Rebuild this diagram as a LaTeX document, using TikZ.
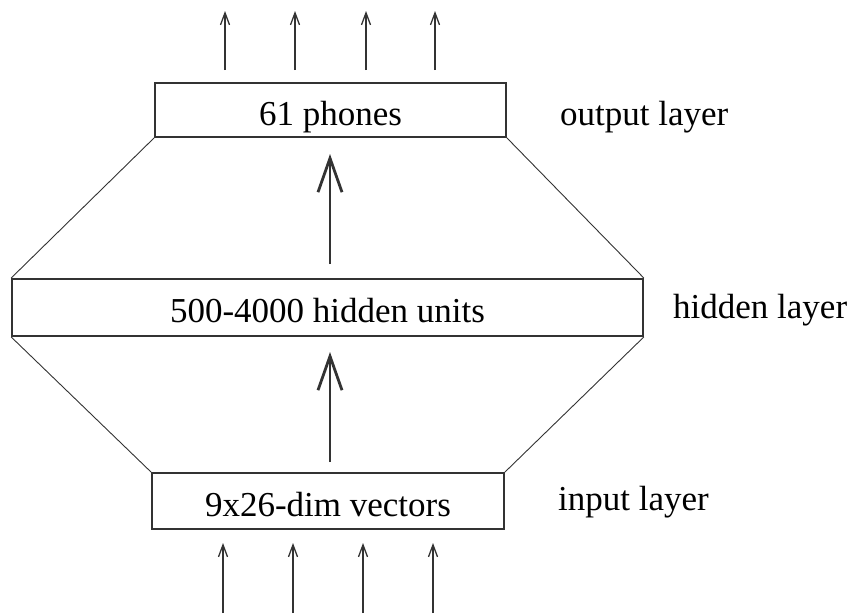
\documentclass[tikz,border=0pt]{standalone}
\usepackage{fontspec}
\setmainfont{Liberation Serif}
\usetikzlibrary{arrows.meta}
\begin{document}
\begin{tikzpicture}[x=1pt,y=-1pt,
  ink/.style={draw=black!80},
  layerbox/.style={ink,line width=1.8pt,rectangle,inner sep=0pt,fill=white,
    text height=35pt,text depth=5pt},
  boxtext/.style={font=\fontsize{35}{35}\selectfont},
  sidelabel/.style={anchor=base west,inner sep=0pt,font=\fontsize{35}{35}\selectfont},
  flank/.style={ink,line width=0.9pt},
  feed/.style={ink,line width=1.3pt,-{Straight Barb[length=12pt,width=9pt,line width=1.3pt]}},
  pass/.style={ink,line width=2.8pt,-{Straight Barb[length=34pt,width=24pt,line width=2.8pt]}}
]
\useasboundingbox (0,0) rectangle (851,613);

% the three layers
\node[layerbox,minimum width=351pt,minimum height=54pt,boxtext] (out) at (330.5,110) {61 phones};
\node[layerbox,minimum width=631pt,minimum height=57pt,boxtext] (hid) at (327.5,307.5) {500-4000 hidden units};
\node[layerbox,minimum width=352pt,minimum height=56pt,boxtext] (inp) at (328,501) {9x26-dim vectors};

% slanted sides joining the layers
\draw[flank] (out.south west) -- (hid.north west);
\draw[flank] (out.south east) -- (hid.north east);
\draw[flank] (hid.south west) -- (inp.north west);
\draw[flank] (hid.south east) -- (inp.north east);

% layer names
\node[sidelabel] (lout) at (560,125) {output layer};
\node[sidelabel] (lhid) at (673,318) {hidden layer};
\node[sidelabel] (linp) at (558,510) {input layer};

% flow between layers
\coordinate (u0) at (330,264);
\coordinate (u1) at (330,154);
\coordinate (l0) at (330,462);
\coordinate (l1) at (330,352);
\draw[pass] (u0) -- (u1);
\draw[pass] (l0) -- (l1);

% outputs leaving the top layer
\foreach \i/\x in {1/225,2/295,3/366,4/435}{
  \coordinate (ot\i) at (\x,70);
  \coordinate (oh\i) at (\x,11);
  \draw[feed] (ot\i) -- (oh\i);
}
% inputs entering the bottom layer
\foreach \i/\x in {1/223,2/293,3/363,4/433}{
  \coordinate (it\i) at (\x,613);
  \coordinate (ih\i) at (\x,543);
  \draw[feed] (it\i) -- (ih\i);
}
\end{tikzpicture}
\end{document}
